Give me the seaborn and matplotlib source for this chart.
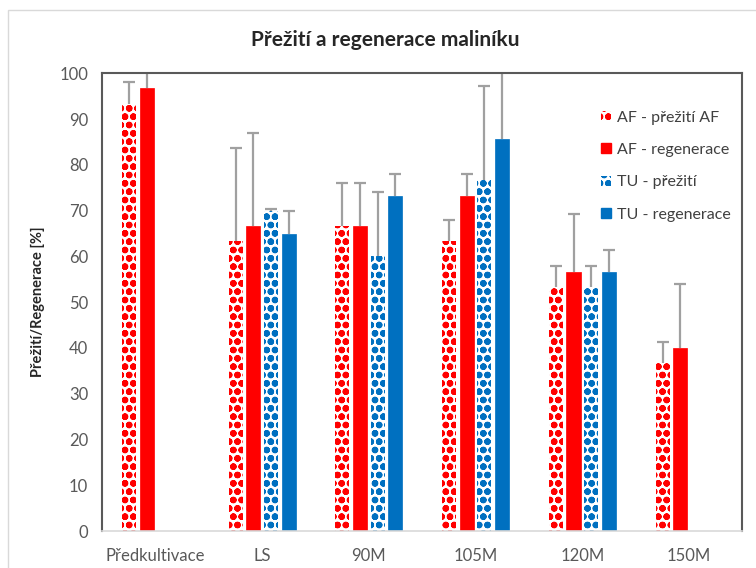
# -------------------------------------------
# 1) IMPORTS
# -------------------------------------------
import numpy as np
import pandas as pd
import matplotlib
matplotlib.use("Agg")
import matplotlib.pyplot as plt
from matplotlib.patches import Patch, Rectangle
import seaborn as sns

# -------------------------------------------
# 2) DATA
# -------------------------------------------
categories = ["Předkultivace", "LS", "90M", "105M", "120M", "150M"]
series = ["AF - přežití AF", "AF - regenerace", "TU - přežití", "TU - regenerace"]

af_preziti = [93.3, 63.3, 66.7, 63.3, 53.3, 36.7]
af_regenerace = [96.7, 66.7, 66.7, 73.3, 56.7, 40.0]
tu_preziti = [np.nan, 70.0, 60.0, 76.7, 53.3, np.nan]
tu_regenerace = [np.nan, 65.0, 73.3, 85.7, 56.7, np.nan]

# upper error (only the + side is drawn)
af_preziti_err = [4.9, 20.4, 9.3, 4.7, 4.7, 4.6]
af_regenerace_err = [5.0, 20.3, 9.3, 4.7, 12.5, 14.0]
tu_preziti_err = [np.nan, 0.3, 14.0, 20.5, 4.7, np.nan]
tu_regenerace_err = [np.nan, 5.0, 4.7, 20.0, 4.8, np.nan]

y_ticks = list(range(0, 101, 10))

values = [af_preziti, af_regenerace, tu_preziti, tu_regenerace]
errors = [af_preziti_err, af_regenerace_err, tu_preziti_err, tu_regenerace_err]

rows = []
for s, vals, errs in zip(series, values, errors):
    for c, v, e in zip(categories, vals, errs):
        rows.append({"kategorie": c, "serie": s, "hodnota": v, "chyba": e})
df = pd.DataFrame(rows)

RED = "#FF0000"
BLUE = "#0070C0"
colors = {series[0]: RED, series[1]: RED, series[2]: BLUE, series[3]: BLUE}
hatched = {series[0]: True, series[1]: False, series[2]: True, series[3]: False}
HATCH = "oo"

# -------------------------------------------
# 3) PLOT
# -------------------------------------------
sns.set_style("white")
plt.rcParams["font.family"] = ["Lato", "DejaVu Sans"]
plt.rcParams["hatch.linewidth"] = 2.3

fig = plt.figure(figsize=(7.56, 5.68), dpi=100)
ax = fig.add_axes([0.135, 0.065, 0.847, 0.806])

sns.barplot(data=df, x="kategorie", y="hodnota", hue="serie",
            order=categories, hue_order=series, palette=colors,
            errorbar=None, width=0.66, gap=0.2, ax=ax, legend=False)

# style bars + error bars (upper side only)
for s, cont in zip(series, ax.containers):
    sub = df[df["serie"] == s].set_index("kategorie")
    for bar in cont:
        h = bar.get_height()
        if np.isnan(h) or h == 0:
            continue
        xc = bar.get_x() + bar.get_width() / 2
        cat = categories[int(round(xc))]
        err = sub.loc[cat, "chyba"]
        if hatched[s]:
            bar.set_facecolor("white")
            bar.set_edgecolor(colors[s])
            bar.set_hatch(HATCH)
            bar.set_linewidth(0)
        else:
            bar.set_facecolor(colors[s])
            bar.set_edgecolor(colors[s])
            bar.set_linewidth(0.5)
        _, caps, _ = ax.errorbar(xc, h, yerr=[[0], [err]], fmt="none", ecolor="#a0a0a0",
                                 elinewidth=1.6, capsize=4, capthick=1.6, zorder=0.5)
        caps[0].set_visible(False)

ax.set_ylim(0, 100)
ax.set_yticks(y_ticks)
ax.set_xlim(-0.5, len(categories) - 0.5)
ax.tick_params(axis="both", length=0, labelsize=12, labelcolor="#595959", pad=10)
ax.tick_params(axis="x", pad=12)
ax.set_xlabel("")
ax.set_ylabel("Přežití/Regenerace [%]", fontsize=10.5, fontweight="bold",
              color="#262626", labelpad=10)

for side in ["left", "top", "right"]:
    ax.spines[side].set_color("#595959")
    ax.spines[side].set_linewidth(1.5)
ax.spines["bottom"].set_color("#d9d9d9")
ax.spines["bottom"].set_linewidth(1.2)

fig.text(0.509, 0.93, "Přežití a regenerace maliníku", ha="center", va="center",
         fontsize=15, fontweight="bold", color="#262626")

# legend
handles = []
for s in series:
    if hatched[s]:
        handles.append(Patch(facecolor="white", edgecolor=colors[s], hatch=HATCH, linewidth=0))
    else:
        handles.append(Patch(facecolor=colors[s], edgecolor=colors[s]))
ax.legend(handles, series, loc="upper right", bbox_to_anchor=(1.005, 0.95),
          frameon=False, fontsize=11.5, labelcolor="#404040",
          handlelength=0.6, handleheight=0.6, handletextpad=0.4, labelspacing=1.15)

# outer chart border
fig.patches.append(Rectangle((8 / 756, -0.1), 1.2, 1 - 10 / 568 + 0.1,
                             transform=fig.transFigure, fill=False,
                             edgecolor="#d9d9d9", linewidth=1.0))

fig.savefig("out.png", dpi=100)
